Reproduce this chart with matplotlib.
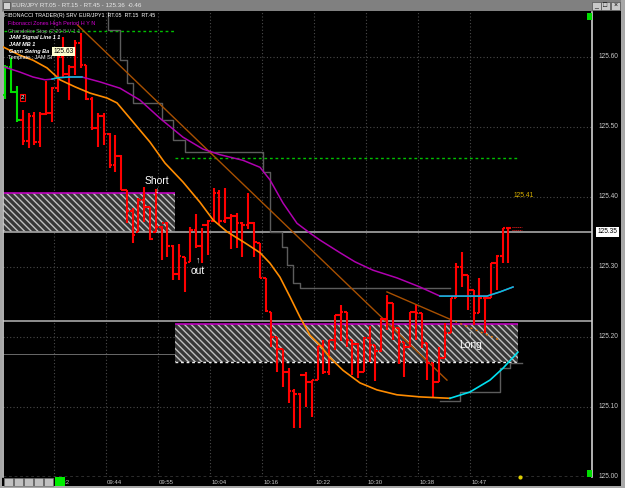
import numpy as np
import matplotlib.pyplot as plt
from matplotlib.patches import Rectangle
from matplotlib import transforms

plt.rcParams['font.family'] = ['Liberation Sans', 'DejaVu Sans']
plt.rcParams['hatch.linewidth'] = 1.0

# ---- price bars (EUR/JPY, tick bars) ----
highs = [125.588, 125.598, 125.558, 125.524, 125.520, 125.521, 125.521, 125.565, 125.557, 125.607,
         125.628, 125.588, 125.624, 125.634, 125.588, 125.542, 125.520, 125.520, 125.491, 125.488,
         125.460, 125.410, 125.384, 125.398, 125.414, 125.385, 125.411, 125.358, 125.364, 125.331,
         125.332, 125.314, 125.357, 125.375, 125.355, 125.367, 125.412, 125.410, 125.412, 125.375,
         125.377, 125.364, 125.405, 125.364, 125.334, 125.284, 125.235, 125.200, 125.182, 125.155,
         125.125, 125.120, 125.150, 125.138, 125.187, 125.195, 125.195, 125.231, 125.245, 125.235,
         125.195, 125.191, 125.200, 125.215, 125.188, 125.227, 125.260, 125.248, 125.212, 125.192,
         125.235, 125.245, 125.234, 125.191, 125.162, 125.185, 125.220, 125.255, 125.305, 125.321,
         125.288, 125.267, 125.284, 125.255, 125.305, 125.317, 125.355, 125.355]
lows = [125.540, 125.548, 125.507, 125.474, 125.470, 125.474, 125.471, 125.517, 125.507, 125.550,
        125.571, 125.538, 125.574, 125.584, 125.538, 125.495, 125.471, 125.474, 125.441, 125.435,
        125.410, 125.362, 125.334, 125.350, 125.364, 125.338, 125.350, 125.310, 125.314, 125.281,
        125.281, 125.264, 125.307, 125.327, 125.305, 125.317, 125.364, 125.360, 125.362, 125.325,
        125.327, 125.314, 125.354, 125.314, 125.284, 125.235, 125.185, 125.150, 125.128, 125.105,
        125.070, 125.070, 125.100, 125.085, 125.138, 125.147, 125.145, 125.181, 125.194, 125.185,
        125.145, 125.141, 125.150, 125.164, 125.137, 125.178, 125.210, 125.195, 125.161, 125.142,
        125.185, 125.195, 125.184, 125.138, 125.112, 125.135, 125.170, 125.205, 125.255, 125.271,
        125.238, 125.217, 125.234, 125.205, 125.255, 125.267, 125.305, 125.305]
opens = [125.545, 125.585, 125.550, 125.510, 125.480, 125.515, 125.478, 125.518, 125.520, 125.555,
         125.600, 125.575, 125.585, 125.620, 125.588, 125.540, 125.498, 125.515, 125.490, 125.445,
         125.458, 125.410, 125.380, 125.350, 125.395, 125.385, 125.350, 125.357, 125.362, 125.330,
         125.290, 125.314, 125.307, 125.352, 125.330, 125.360, 125.365, 125.406, 125.365, 125.370,
         125.373, 125.362, 125.360, 125.362, 125.334, 125.284, 125.235, 125.200, 125.182, 125.150,
         125.122, 125.118, 125.145, 125.135, 125.138, 125.187, 125.150, 125.195, 125.231, 125.235,
         125.195, 125.190, 125.150, 125.198, 125.188, 125.180, 125.225, 125.248, 125.212, 125.192,
         125.185, 125.235, 125.234, 125.191, 125.162, 125.135, 125.170, 125.205, 125.255, 125.300,
         125.288, 125.267, 125.234, 125.255, 125.255, 125.305, 125.315, 125.355]
closes = [125.585, 125.550, 125.510, 125.480, 125.515, 125.478, 125.518, 125.520, 125.555, 125.600,
          125.575, 125.585, 125.620, 125.588, 125.540, 125.498, 125.515, 125.490, 125.445, 125.458,
          125.410, 125.380, 125.345, 125.395, 125.385, 125.340, 125.357, 125.362, 125.330, 125.290,
          125.315, 125.305, 125.352, 125.330, 125.360, 125.365, 125.406, 125.365, 125.370, 125.373,
          125.362, 125.360, 125.362, 125.335, 125.284, 125.237, 125.200, 125.183, 125.150, 125.122,
          125.118, 125.145, 125.135, 125.138, 125.187, 125.150, 125.195, 125.231, 125.235, 125.195,
          125.190, 125.150, 125.198, 125.188, 125.180, 125.225, 125.248, 125.212, 125.192, 125.185,
          125.235, 125.234, 125.191, 125.162, 125.135, 125.170, 125.205, 125.255, 125.300, 125.288,
          125.267, 125.234, 125.255, 125.255, 125.305, 125.315, 125.355, 125.355]
n_up = 3  # first bars painted green

# ---- indicators ----
sig_x = [-0.43, 2.51, 4.76, 7.18, 9.43, 12.02, 14.62, 17.56, 19.29, 21.54, 25.0, 27.6, 30.71,
         33.65, 35.9, 38.32, 41.44, 44.03, 45.76, 47.49, 49.22, 50.95, 52.68, 54.41, 56.14,
         58.39, 61.33, 64.27, 67.73, 71.71, 76.9, 80.36, 83.82, 86.07, 88.66]
sig_y = [125.614, 125.602, 125.595, 125.584, 125.567, 125.557, 125.548, 125.541, 125.534,
         125.512, 125.478, 125.448, 125.421, 125.392, 125.367, 125.350, 125.334, 125.320,
         125.305, 125.285, 125.257, 125.228, 125.202, 125.188, 125.170, 125.152, 125.134,
         125.124, 125.117, 125.114, 125.112, 125.121, 125.138, 125.155, 125.178]
sig_turn = 30

mb_x = [-0.09, 2.51, 4.76, 6.83, 8.04, 9.08, 11.16, 13.24, 16.35, 19.81, 23.27, 26.73, 30.71,
        34.17, 37.11, 41.09, 44.03, 45.76, 48.01, 50.43, 52.68, 54.41, 57.87, 60.46, 63.58,
        67.73, 71.71, 75.17, 76.9, 80.36, 83.3, 85.55, 87.8]
mb_y = [125.585, 125.578, 125.571, 125.567, 125.568, 125.570, 125.571, 125.571, 125.564,
        125.555, 125.538, 125.512, 125.485, 125.468, 125.460, 125.452, 125.442, 125.424,
        125.391, 125.362, 125.348, 125.338, 125.320, 125.307, 125.295, 125.284, 125.271,
        125.258, 125.258, 125.258, 125.258, 125.264, 125.271]
mb_cyan = [(4, 8), (27, 33)]

# chandelier stop (short side, then long side)
stop_x = [17.73, 17.73, 19.81, 21.02, 22.06, 27.08, 28.98, 31.06, 44.55, 45.76, 47.84, 48.7,
          49.74, 50.95, 76.9]
stop_lv = [125.664, 125.638, 125.595, 125.562, 125.534, 125.510, 125.481, 125.464, 125.435,
           125.350, 125.328, 125.302, 125.277, 125.270, 125.270]
stop2_x = [75.2, 78.63, 85.55, 87.3, 89.4]
stop2_lv = [125.108, 125.121, 125.155, 125.162, 125.162]

# gann / trend lines
tl1_x, tl1_y = [12.5, 76.38], [125.645, 125.138]
tl2_x, tl2_y = [66.0, 76.9], [125.264, 125.225]
tl2b_x, tl2b_y = [76.9, 85.55], [125.225, 125.195]

# fibonacci zones
zone1 = (-0.43, 29.33, 125.350, 125.405)
zone2 = (29.33, 88.7, 125.164, 125.218)
fib_hi1, fib_hi2 = 125.637, 125.455
last_price = 125.35

time_pos = [8.4, 17.4, 26.4, 35.4, 44.4, 53.4, 62.4, 71.4, 80.4]
time_lab = ['09:32', '09:44', '09:55', '10:04', '10:16', '10:22', '10:30', '10:38', '10:47']
price_ticks = [125.00, 125.10, 125.20, 125.30, 125.40, 125.50, 125.60]

# ---- figure ----
W, H = 625, 488
fig = plt.figure(figsize=(6.25, 4.88), dpi=100, facecolor='black')
left_px, right_px, top_px, bot_px = 3, 592, 12, 476.7
ax = fig.add_axes([left_px / W, (H - bot_px) / H, (right_px - left_px) / W, (bot_px - top_px) / H])
ax.set_facecolor('black')
ax.set_xlim(-0.43, 101.47)
ax.set_ylim(125.00, 125.00 + (bot_px - top_px) / 700)
ax.set_xticks([])
ax.set_yticks([])
for s in ['top', 'bottom']:
    ax.spines[s].set_visible(False)
for s in ['left', 'right']:
    ax.spines[s].set_color('#d0d0d0')
    ax.spines[s].set_linewidth(1.2)

# grid
for p in price_ticks[1:]:
    ax.axhline(p, color='#4a4a4a', lw=0.8, ls=(0, (1, 2)), zorder=0.5)
ax.axhline(price_ticks[0], color='#e0e0e0', lw=1.0, ls=(0, (2, 2)), zorder=0.5)
for t in time_pos:
    ax.axvline(t, color='#4a4a4a', lw=0.8, ls=(0, (1, 2)), zorder=0.5)

# zones
for (x0, x1, y0, y1) in [zone1, zone2]:
    ax.add_patch(Rectangle((x0, y0), x1 - x0, y1 - y0, facecolor='#383838',
                           edgecolor='#c0c0c0', lw=0, hatch='\\\\\\\\\\', zorder=1))
ax.hlines(zone1[3], zone1[0], zone1[1], color='#c000c0', lw=1.2, zorder=1.6)
ax.hlines(zone2[3], zone2[0], zone2[1], color='#c000c0', lw=1.2, zorder=1.6)
ax.hlines(zone2[2], zone2[0], zone2[1], color='#f0f0f0', lw=1.0, ls=(0, (2, 2)), zorder=1.6)
ax.hlines(125.175, zone1[0], zone1[1], color='#6a6a6a', lw=0.7, zorder=1.5)
ax.axhline(last_price, color='#9a9a9a', lw=1.3, zorder=1.5)
ax.axhline(125.223, color='#9a9a9a', lw=1.3, zorder=1.5)
ax.hlines(fib_hi1, -0.3, 29.33, color='#00c000', lw=1.0, ls=(0, (2, 2)), zorder=1.6)
ax.hlines(fib_hi2, 29.33, 88.5, color='#00c000', lw=1.0, ls=(0, (2, 2)), zorder=1.6)

# chandelier stop
ax.step(stop_x, stop_lv, where='post', color='#5c5c5c', lw=1.0, zorder=2)
ax.step(stop2_x, stop2_lv, where='post', color='#5c5c5c', lw=1.0, zorder=2)

# trend lines
ax.plot(tl1_x, tl1_y, color='#a85000', lw=1.0, zorder=2)
ax.plot(tl2_x, tl2_y, color='#a85000', lw=1.0, zorder=2)
ax.plot(tl2b_x, tl2b_y, color='#e07000', lw=1.0, ls=(0, (1.5, 2.5)), zorder=2)

# bars
x = np.arange(len(highs))
cols = ['#00e000'] * n_up + ['#ff0000'] * (len(highs) - n_up)
ax.vlines(x, lows, highs, colors=cols, lw=1.5, zorder=4)
ax.hlines(opens, x - 0.45, x, colors=cols, lw=1.5, zorder=4)
ax.hlines(closes, x, x + 0.45, colors=cols, lw=1.5, zorder=4)
ax.hlines([125.357, 125.352], 87.6, 89.3, color='#ff2020', lw=0.7, ls=(0, (1, 1)), zorder=4)

# moving averages
ax.plot(mb_x, mb_y, color='#b000b0', lw=1.1, zorder=4.5)
for a, b in mb_cyan:
    ax.plot(mb_x[a:b], mb_y[a:b], color='#00c8d8', lw=1.1, zorder=4.6)
ax.plot(sig_x[:sig_turn + 1], sig_y[:sig_turn + 1], color='#ff8c00', lw=1.2, zorder=4.5)
ax.plot(sig_x[sig_turn:], sig_y[sig_turn:], color='#00e0f0', lw=1.2, zorder=4.5)

# signals
ax.text(26.2, 125.423, 'Short', color='white', fontsize=7.5, ha='center', va='center', zorder=6)
ax.text(26.2, 125.409, '\u2193', color='white', fontsize=6.5, ha='center', va='center', zorder=6)
ax.text(33.3, 125.294, 'out', color='white', fontsize=7.5, ha='center', va='center', zorder=6)
ax.text(33.3, 125.309, '\u2191', color='white', fontsize=6.5, ha='center', va='center', zorder=6)
ax.text(80.4, 125.188, 'Long', color='white', fontsize=7.5, ha='center', va='center', zorder=6)
ax.text(80.4, 125.204, '\u2191', color='white', fontsize=6.5, ha='center', va='center', zorder=6)
ax.text(2.9, 125.542, '2', color='white', fontsize=4.5, ha='center', va='center', zorder=6,
        bbox=dict(facecolor='black', edgecolor='#ff0000', pad=0.6, lw=0.8))
ax.text(10.0, 125.607, '125.63', color='black', fontsize=4.8, ha='center', va='center', zorder=6,
        bbox=dict(facecolor='#ffffd0', edgecolor='none', pad=0.8))
ax.text(87.9, 125.402, '125.41', color='#d8b000', fontsize=4.8, ha='left', va='center', zorder=6)

# axis labels
tr = transforms.blended_transform_factory(ax.transAxes, ax.transData)
for p in price_ticks:
    ax.text(1.011, p, f'{p:.2f}', transform=tr, color='#c8c8c8', fontsize=4.7,
            ha='left', va='center', clip_on=False)
ax.text(1.009, last_price, f'{last_price:.2f}', transform=tr, color='black', fontsize=4.7,
        ha='left', va='center', clip_on=False,
        bbox=dict(facecolor='white', edgecolor='none', pad=1.0))
trx = transforms.blended_transform_factory(ax.transData, ax.transAxes)
for t, lab in zip(time_pos, time_lab):
    ax.text(t + 0.2, -0.012, lab, transform=trx, color='#c8c8c8', fontsize=4.3,
            ha='left', va='center', clip_on=False)

# ---- window chrome (pixel overlay) ----
ui = fig.add_axes([0, 0, 1, 1], zorder=10)
ui.set_xlim(0, W)
ui.set_ylim(H, 0)
ui.axis('off')
ui.patch.set_alpha(0)
ui.add_patch(Rectangle((0, 0), W, 11, facecolor='#808080', edgecolor='none'))
ui.add_patch(Rectangle((0, 0), 2, H, facecolor='#a8a8a8', edgecolor='none'))
ui.add_patch(Rectangle((621, 0), 4, H, facecolor='#a8a8a8', edgecolor='none'))
ui.add_patch(Rectangle((0, 486), W, 2, facecolor='#a8a8a8', edgecolor='none'))
ui.add_patch(Rectangle((2.5, 1.5), 7, 7.5, facecolor='#d0d0d0', edgecolor='#404040', lw=0.5))
ui.text(12, 5.8, 'EUR/JPY RT.05 - RT.15 - RT.45 - 125.36', color='#e8e8e8', fontsize=4.5, va='center')
ui.text(128, 5.8, '-0.46', color='#e8e8e8', fontsize=4.5, va='center')
for bx, g in zip([592, 601, 611], ['_', '\u25a1', '\u00d7']):
    ui.add_patch(Rectangle((bx, 1.5), 8.5, 8, facecolor='#c8c8c8', edgecolor='#505050', lw=0.5))
    ui.text(bx + 4.25, 5.8, g, color='black', fontsize=5, ha='center', va='center')

ui.text(4, 15.5, 'FIBONACCI TRADER(R) SRV', color='white', fontsize=3.9, va='center')
ui.text(79, 15.5, 'EUR/JPY1  RT.05  RT.15  RT.45', color='white', fontsize=3.9, va='center')
ui.text(8, 24, 'Fibonacci Zones High Period H Y N', color='#d000d0', fontsize=4.0, va='center')
ui.text(8, 31, 'Chandelier Stop (2 20 8 V 1 1', color='#909090', fontsize=4.0, va='center')
ui.text(9, 38, 'JAM Signal Line 1 1', color='white', fontsize=4.0, va='center',
        fontweight='bold', fontstyle='italic')
ui.text(9, 44.5, 'JAM MB 1', color='white', fontsize=4.0, va='center', fontweight='bold', fontstyle='italic')
ui.text(9, 51.5, 'Gann Swing Ba', color='white', fontsize=4.0, va='center', fontweight='bold',
        fontstyle='italic', zorder=1)
ui.text(8, 58, 'Template : JAM SI', color='white', fontsize=4.0, va='center')

# corner markers and bottom buttons
ui.add_patch(Rectangle((587, 13), 5, 7, facecolor='#00dd00', edgecolor='none'))
ui.add_patch(Rectangle((587, 470), 5, 7, facecolor='#00dd00', edgecolor='none'))
for bx in [4, 14, 24, 34, 44]:
    ui.add_patch(Rectangle((bx, 478), 9, 8, facecolor='#c0c0c0', edgecolor='#707070', lw=0.5))
ui.add_patch(Rectangle((55, 477), 10, 9, facecolor='#00ee00', edgecolor='none'))
ui.plot([520], [476.5], marker='o', ms=2, color='#e0d000')

fig.savefig('out.png', dpi=100, facecolor='black')
